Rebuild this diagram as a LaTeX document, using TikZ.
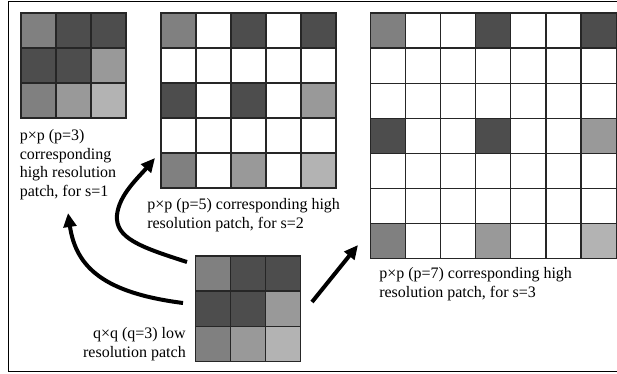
\documentclass[tikz,border=0pt]{standalone}
\usepackage{fontspec}
\setmainfont{Liberation Serif}
\usetikzlibrary{positioning,arrows.meta}
% grey levels of the 3x3 patch
\definecolor{pc11}{HTML}{808080}
\definecolor{pc12}{HTML}{4D4D4D}
\definecolor{pc13}{HTML}{4D4D4D}
\definecolor{pc21}{HTML}{4D4D4D}
\definecolor{pc22}{HTML}{4D4D4D}
\definecolor{pc23}{HTML}{999999}
\definecolor{pc31}{HTML}{808080}
\definecolor{pc32}{HTML}{999999}
\definecolor{pc33}{HTML}{B3B3B3}

\begin{document}
\begin{tikzpicture}[x=0.75pt, y=-0.75pt,
                % styles for the cells
                cell/.style={draw=black!85, line width=0.8pt, minimum size=26.25pt, inner sep=0pt, outer sep=0pt, anchor=north west},
                % style for the captions
                caption/.style={font=\fontsize{12}{14}\selectfont, inner sep=0pt},
                % style for the arrows
                bigarrow/.style={-{Triangle[length=10.5pt, width=9.5pt]}, line width=3pt, black},
                frame/.style={line width=1.2pt}
            ]
                \useasboundingbox (0,0) rectangle (617,374);

                % --- FRAME ---
                \draw[frame] (617,1.5) -- (8.5,1.5) -- (8.5,371.5) -- (617,371.5);

                % --- HIGH RESOLUTION PATCHES ---
                % s=1
                \foreach \r in {1,2,3}
                  \foreach \c in {1,2,3}
                    \node[cell, fill=pc\r\c] (hA-\r-\c) at ({21+35*(\c-1)}, {13+35*(\r-1)}) {};

                % s=2
                \foreach \r in {1,...,5}
                  \foreach \c in {1,...,5} {
                    \pgfmathtruncatemacro{\on}{and(mod(\r,2)==1, mod(\c,2)==1)}
                    \pgfmathtruncatemacro{\i}{(\r+1)/2}
                    \pgfmathtruncatemacro{\j}{(\c+1)/2}
                    \ifnum\on=1 \def\cc{pc\i\j}\else\def\cc{white}\fi
                    \node[cell, fill=\cc] (hB-\r-\c) at ({161+35*(\c-1)}, {13+35*(\r-1)}) {};
                  }

                % s=3
                \foreach \r in {1,...,7}
                  \foreach \c in {1,...,7} {
                    \pgfmathtruncatemacro{\on}{and(mod(\r-1,3)==0, mod(\c-1,3)==0)}
                    \pgfmathtruncatemacro{\i}{(\r+2)/3}
                    \pgfmathtruncatemacro{\j}{(\c+2)/3}
                    \ifnum\on=1 \def\cc{pc\i\j}\else\def\cc{white}\fi
                    \node[cell, fill=\cc] (hC-\r-\c) at ({370.5+35.1*(\c-1)}, {13+35.1*(\r-1)}) {};
                  }

                % --- LOW RESOLUTION PATCH ---
                \foreach \r in {1,2,3}
                  \foreach \c in {1,2,3}
                    \node[cell, fill=pc\r\c] (lo-\r-\c) at ({195.5+35.2*(\c-1)}, {256+35.2*(\r-1)}) {};

                % --- CAPTIONS ---
                \node[caption, anchor=north west, align=left] (capA) at (19.5,129) {p×p (p=3)\\corresponding\\high resolution\\patch, for s=1};
                \node[caption, anchor=north west, align=left] (capB) at (147,198) {p×p (p=5) corresponding high\\resolution patch, for s=2};
                \node[caption, anchor=north west, align=left] (capC) at (379,267) {p×p (p=7) corresponding high\\resolution patch, for s=3};
                \node[caption, anchor=north east, align=right] (capL) at (186,327) {q×q (q=3) low\\resolution patch};

                % --- ARROWS ---
                \coordinate (sA) at (183,303);
                \coordinate (tA) at (68,213);
                \coordinate (sB) at (187,262);
                \coordinate (bB) at (117,215);
                \coordinate (tB) at (155,158);
                \coordinate (sC) at (312,302);
                \coordinate (tC) at (358,245);

                \draw[bigarrow] (sA) .. controls (105,293) and (76,268) .. (tA);
                \draw[bigarrow] (sB) .. controls (140,247) and (115,238) .. (bB)
                                     .. controls (119,195) and (138,178) .. (tB);
                \draw[bigarrow] (sC) -- (tC);

            \end{tikzpicture}
\end{document}
